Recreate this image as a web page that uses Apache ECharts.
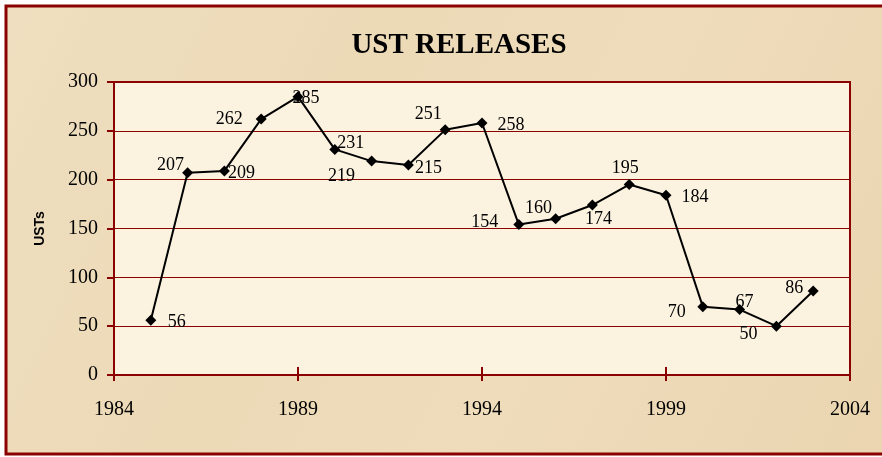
<!DOCTYPE html>
<html>
<head>
<meta charset="utf-8">
<script src="https://cdn.jsdelivr.net/npm/echarts@6/dist/echarts.min.js"></script>
<style>
html,body{margin:0;padding:0;background:#ffffff;}
#c{width:882px;height:457px;}
</style>
</head>
<body>
<div id="c"></div>
<script>
// Data
const years = [1985,1986,1987,1988,1989,1990,1991,1992,1993,1994,1995,1996,1997,1998,1999,2000,2001,2002,2003];
const releases = [56,207,209,262,285,231,219,215,251,258,154,160,174,195,184,70,67,50,86];
const xTicks = [1984,1989,1994,1999,2004];
const yTicks = [0,50,100,150,200,250,300];
const titleText = 'UST RELEASES';
const yName = 'USTs';
// Label offsets (style only, px relative to marker)
const labelOffsets = [[26,2],[-17,-8],[17,2],[-32,0],[8,2],[16,-6],[-30,15],[20,3],[-17,-16],[29,2],[-34,-2],[-17,-10],[6,14],[-4,-16],[29,2],[-26,6],[5,-7],[-28,8],[-19,-3]];

const red = '#8b0000';
const serif = '"Liberation Serif","Times New Roman",serif';

const chart = echarts.init(document.getElementById('c'));
const seriesData = years.map((y,i)=>({
  value:[y,releases[i]],
  label:{offset:labelOffsets[i]}
}));

chart.setOption({
  backgroundColor:'transparent',
  animation:false,
  graphic:[
    {type:'rect',z:-10,silent:true,shape:{x:6,y:6,width:900,height:448},
     style:{fill:new echarts.graphic.LinearGradient(0,0,1,1,[
       {offset:0,color:'#efdfc0'},{offset:0.35,color:'#ecd9b6'},{offset:0.6,color:'#efdcbb'},{offset:1,color:'#ead5b0'}]),
       stroke:red,lineWidth:3}},
    {type:'text',x:459,y:46,z:10,
     style:{text:titleText,fill:'#000',font:'bold 29px '+serif,textAlign:'center',textVerticalAlign:'middle'}}
  ],
  grid:{left:114,top:82,right:32,bottom:82,show:true,backgroundColor:'#fcf2e0',borderColor:red,borderWidth:2},
  xAxis:[{
    type:'value',min:1984,max:2004,interval:5,position:'bottom',
    axisLine:{show:true,lineStyle:{color:red,width:2}},
    axisTick:{show:true,length:6,lineStyle:{color:red,width:2}},
    axisLabel:{margin:25,color:'#000',fontFamily:serif,fontSize:20,formatter:v=>String(v)},
    splitLine:{show:false}
  },{
    type:'value',min:1984,max:2004,interval:5,position:'bottom',
    axisLine:{show:false},
    axisTick:{show:true,inside:true,length:8,lineStyle:{color:red,width:2}},
    axisLabel:{show:false},splitLine:{show:false}
  }],
  yAxis:{
    type:'value',min:0,max:300,interval:50,
    name:yName,nameLocation:'middle',nameRotate:90,nameGap:67,
    nameTextStyle:{color:'#000',fontFamily:'"Liberation Sans",Arial,sans-serif',fontWeight:'bold',fontSize:14},
    axisLine:{show:true,lineStyle:{color:red,width:2}},
    axisTick:{show:true,length:7,lineStyle:{color:red,width:2}},
    axisLabel:{margin:16,color:'#000',fontFamily:serif,fontSize:20},
    splitLine:{show:true,lineStyle:{color:red,width:1}}
  },
  series:[{
    type:'line',data:seriesData,
    symbol:'diamond',symbolSize:11,
    itemStyle:{color:'#000'},
    lineStyle:{color:'#000',width:2},
    label:{show:true,position:'inside',formatter:p=>p.value[1],color:'#000',fontFamily:serif,fontSize:18},
    z:5
  }]
});
</script>
</body>
</html>
